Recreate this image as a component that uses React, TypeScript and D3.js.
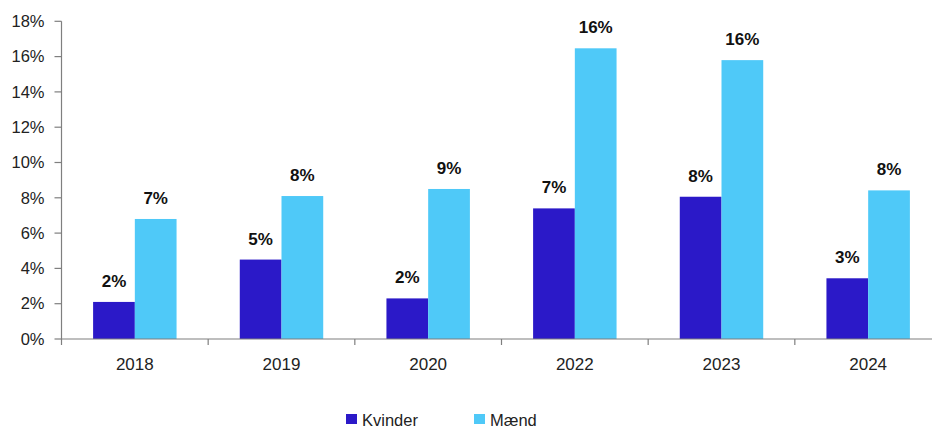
import React from "react";
import * as d3 from "d3";

const categories = ["2018", "2019", "2020", "2022", "2023", "2024"];
const seriesNames = ["Kvinder", "Mænd"];
const kvinder = [2.1, 4.5, 2.3, 7.4, 8.06, 3.44];
const maend = [6.8, 8.1, 8.5, 16.47, 15.8, 8.42];
const kvinderLabels = ["2%", "5%", "2%", "7%", "8%", "3%"];
const maendLabels = ["7%", "8%", "9%", "16%", "16%", "8%"];
const yTicks = [0, 2, 4, 6, 8, 10, 12, 14, 16, 18];

const W = 932;
const H = 428;
const colors = ["#2B19C8", "#4FC9F8"];
const font = "'Liberation Sans', Arial, sans-serif";

export default function App() {
  const x = d3.scaleBand<string>().domain(categories).range([61.5, 941.5]).paddingInner(0).paddingOuter(0);
  const y = d3.scaleLinear().domain([0, 18]).range([339, 21.3]);
  const groupW = x.bandwidth() * 0.569;
  const x1 = d3.scaleBand<string>().domain(seriesNames).range([0, groupW]).padding(0);
  const series = [
    { name: seriesNames[0], values: kvinder, labels: kvinderLabels, color: colors[0] },
    { name: seriesNames[1], values: maend, labels: maendLabels, color: colors[1] },
  ];
  const axisColor = "#7f7f7f";
  return (
    <svg width={W} height={H} style={{ position: "absolute", left: 0, top: 0, display: "block", background: "#fff" }} fontFamily={font}>
      {series.map((s) =>
        s.values.map((v, i) => {
          const bx = (x(categories[i]) as number) + (x.bandwidth() - groupW) / 2 + (x1(s.name) as number);
          return (
            <g key={s.name + i}>
              <rect x={bx} y={y(v)} width={x1.bandwidth()} height={y(0) - y(v)} fill={s.color} />
              <text x={bx + x1.bandwidth() / 2} y={y(v) - 15} textAnchor="middle" fontSize={17} fontWeight="bold" fill="#111">
                {s.labels[i]}
              </text>
            </g>
          );
        })
      )}
      {/* y axis */}
      <line x1={61.5} x2={61.5} y1={21.3} y2={339} stroke={axisColor} strokeWidth={1.2} />
      {yTicks.map((t) => (
        <g key={t}>
          <line x1={54.5} x2={61.5} y1={y(t)} y2={y(t)} stroke={axisColor} strokeWidth={1.2} />
          <text x={44.5} y={y(t)} dy="0.35em" textAnchor="end" fontSize={16.5} fill="#222">
            {t}%
          </text>
        </g>
      ))}
      {/* x axis */}
      <line x1={61.5} x2={W} y1={339} y2={339} stroke={axisColor} strokeWidth={1.2} />
      {categories.map((c) => (
        <g key={c}>
          <line x1={x(c) as number} x2={x(c) as number} y1={339} y2={345} stroke={axisColor} strokeWidth={1.2} />
          <text x={(x(c) as number) + x.bandwidth() / 2} y={364} dy="0.35em" textAnchor="middle" fontSize={17} fill="#222">
            {c}
          </text>
        </g>
      ))}
      {/* legend */}
      {series.map((s, i) => {
        const lx = i === 0 ? 346 : 474;
        return (
          <g key={s.name}>
            <rect x={lx} y={414} width={11} height={10} fill={s.color} />
            <text x={lx + 16} y={425.5} fontSize={16.5} fill="#222">
              {s.name}
            </text>
          </g>
        );
      })}
    </svg>
  );
}
